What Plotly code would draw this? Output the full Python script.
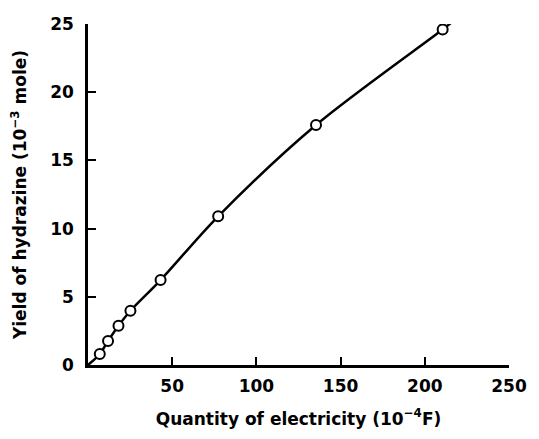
import plotly.graph_objects as go

# Data
quantity = [7.0, 11.9, 18.1, 25.2, 43.1, 77.3, 135.4, 210.6]   # 10^-4 F
yield_h = [0.81, 1.76, 2.88, 3.98, 6.23, 10.9, 17.6, 24.6]     # 10^-3 mole

curve_x = [0, 7.0, 11.9, 18.1, 25.2, 43.1, 77.3, 135.4, 210.6, 218.8]
curve_y = [0, 0.81, 1.76, 2.88, 3.98, 6.23, 10.9, 17.6, 24.6, 25.4]

x_ticks = [50, 100, 150, 200, 250]
y_ticks = [0, 5, 10, 15, 20, 25]

FONT = "DejaVu Sans"

fig = go.Figure()
fig.add_trace(go.Scatter(
    x=curve_x, y=curve_y, mode="lines",
    line=dict(color="black", width=2.5, shape="spline", smoothing=0.9),
    hoverinfo="skip", showlegend=False,
))
fig.add_trace(go.Scatter(
    x=quantity, y=yield_h, mode="markers",
    marker=dict(symbol="circle", size=10, color="white",
                line=dict(color="black", width=2)),
    showlegend=False,
))

fig.update_layout(
    width=539, height=439, autosize=False,
    margin=dict(l=88, r=24, t=24, b=74),
    plot_bgcolor="white", paper_bgcolor="white",
    font=dict(family=FONT, color="black", size=17, weight="bold"),
)
fig.update_xaxes(
    range=[0, 250], tickvals=x_ticks, ticktext=[str(v) for v in x_ticks],
    showgrid=False, zeroline=False, showline=True, linecolor="black", linewidth=2.5,
    ticks="inside", ticklen=8, tickwidth=2, tickcolor="black",
    tickfont=dict(family=FONT, size=17, weight="bold"),
    ticklabelstandoff=4,
    title=dict(text="Quantity of electricity (10<sup>−4</sup>F)",
               font=dict(family=FONT, size=17, weight="bold"), standoff=18),
)
fig.update_yaxes(
    range=[0, 25], tickvals=y_ticks, ticktext=[str(v) for v in y_ticks],
    showgrid=False, zeroline=False, showline=True, linecolor="black", linewidth=2.5,
    ticks="inside", ticklen=8, tickwidth=2, tickcolor="black",
    tickfont=dict(family=FONT, size=17, weight="bold"),
    ticklabelstandoff=8,
    title=dict(text="Yield of hydrazine (10<sup>−3</sup> mole)",
               font=dict(family=FONT, size=17, weight="bold"), standoff=20),
)

fig.write_html("out.html", config={"displayModeBar": False},
               post_script="document.body.style.margin='0';document.body.style.overflow='hidden';")
